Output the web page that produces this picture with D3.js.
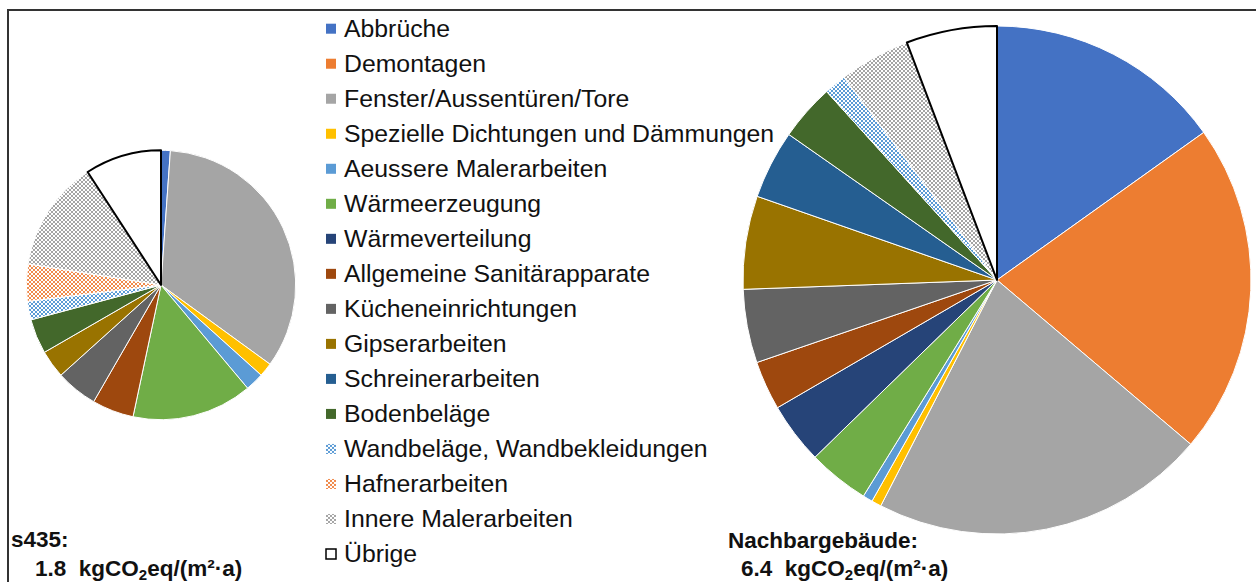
<!DOCTYPE html>
<html>
<head>
<meta charset="utf-8">
<script src="https://cdn.jsdelivr.net/npm/d3@7"></script>
<style>
  body { margin: 0; background: #fff; }
  text { font-family: "Liberation Sans", Arial, sans-serif; }
</style>
</head>
<body>
<svg width="1256" height="582"></svg>
<script>
// categories in legend / slice order
const categories = [
  'Abbrüche', 'Demontagen', 'Fenster/Aussentüren/Tore', 'Spezielle Dichtungen und Dämmungen',
  'Aeussere Malerarbeiten', 'Wärmeerzeugung', 'Wärmeverteilung', 'Allgemeine Sanitärapparate',
  'Kücheneinrichtungen', 'Gipserarbeiten', 'Schreinerarbeiten', 'Bodenbeläge',
  'Wandbeläge, Wandbekleidungen', 'Hafnerarbeiten', 'Innere Malerarbeiten', 'Übrige'
];

// kgCO2eq/(m2*a) per category
const s435Values = [0.02, 0, 0.61, 0.03, 0.04, 0.26, 0, 0.09, 0.09, 0.06, 0, 0.075, 0.04, 0.08, 0.24, 0.165];
const nachbarValues = [0.97, 1.35, 1.37, 0.04, 0.04, 0.25, 0.25, 0.20, 0.30, 0.38, 0.28, 0.23, 0.09, 0, 0.29, 0.37];

const buildings = ['s435:', 'Nachbargebäude:'];
const totals = [1.8, 6.4];

const colors = ['#4472C4', '#ED7D31', '#A5A5A5', '#FFC000', '#5B9BD5', '#70AD47', '#264478', '#9E480E',
  '#636363', '#997300', '#255E91', '#43682B', '#5B9BD5', '#F08A4B', '#A5A5A5', '#FFFFFF'];

const svg = d3.select('svg');
const defs = svg.append('defs');

// checkered fills for the last three "textured" categories
[12, 13, 14].forEach(i => {
  const p = defs.append('pattern')
    .attr('id', 'pat' + i)
    .attr('patternUnits', 'userSpaceOnUse')
    .attr('width', 4).attr('height', 4);
  p.append('rect').attr('width', 4).attr('height', 4).attr('fill', '#fff');
  p.append('rect').attr('width', 2).attr('height', 2).attr('fill', colors[i]);
  p.append('rect').attr('x', 2).attr('y', 2).attr('width', 2).attr('height', 2).attr('fill', colors[i]);
});

function fillOf(i) {
  if (i >= 12 && i <= 14) return 'url(#pat' + i + ')';
  return colors[i];
}

// frame
svg.append('path')
  .attr('d', 'M8,582 L8,10 L1256,10')
  .attr('fill', 'none')
  .attr('stroke', '#333')
  .attr('stroke-width', 2);

// pie size proportional to total (area)
const radius = d3.scaleSqrt().domain([0, 6.4]).range([0, 254]);
const centers = [[161, 285], [997, 280]];

const pie = d3.pie().sort(null).value(d => d.v);

[s435Values, nachbarValues].forEach((vals, k) => {
  const r = radius(totals[k]);
  const arc = d3.arc().innerRadius(0).outerRadius(r);
  const g = svg.append('g').attr('transform', 'translate(' + centers[k] + ')');
  const arcs = pie(vals.map((v, i) => ({v: v, i: i}))).filter(a => a.data.v > 0);

  g.selectAll('path')
    .data(arcs)
    .enter()
    .append('path')
    .attr('d', arc)
    .attr('fill', d => fillOf(d.data.i))
    .attr('stroke', d => d.data.i == 15 ? '#000' : '#fff')
    .attr('stroke-width', d => d.data.i == 15 ? 2 : 1)
    .attr('stroke-linejoin', 'round');

  // bring "Übrige" outline on top
  g.selectAll('path').filter(d => d.data.i == 15).raise();
});

// legend
const rowY = d3.scalePoint().domain(categories).range([28.7, 554]);
const legend = svg.append('g');
const rows = legend.selectAll('g')
  .data(categories)
  .enter()
  .append('g')
  .attr('transform', d => 'translate(326,' + rowY(d) + ')');

rows.append('rect')
  .attr('x', 0).attr('y', -5)
  .attr('width', 10).attr('height', 10)
  .attr('fill', (d, i) => fillOf(i))
  .attr('stroke', (d, i) => i == 15 ? '#000' : 'none')
  .attr('stroke-width', 1.5);

rows.append('text')
  .attr('x', 18)
  .attr('y', 8.3)
  .attr('font-size', 24.8)
  .attr('fill', '#111')
  .text(d => d);

// building labels
const labelPos = [[11, 547], [728, 548]];
const unitPos = [[35, 576], [741, 576]];

buildings.forEach((b, k) => {
  svg.append('text')
    .attr('x', labelPos[k][0]).attr('y', labelPos[k][1])
    .attr('font-size', 22.5).attr('font-weight', 'bold').attr('fill', '#111')
    .text(b);

  const t = svg.append('text')
    .attr('x', unitPos[k][0]).attr('y', unitPos[k][1])
    .attr('font-size', 22.5).attr('font-weight', 'bold').attr('fill', '#111')
    .style('white-space', 'pre');
  t.append('tspan').text(totals[k].toFixed(1) + '  kgCO');
  t.append('tspan').attr('font-size', 15).attr('dy', 4).text('2');
  t.append('tspan').attr('dy', -4).text('eq/(m²·a)');
});
</script>
</body>
</html>
